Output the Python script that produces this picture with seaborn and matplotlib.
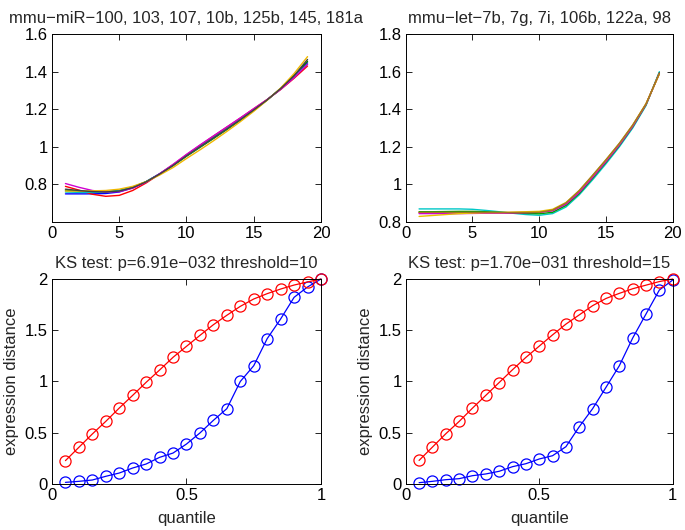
import numpy as np
import pandas as pd
import matplotlib
matplotlib.use("Agg")
import matplotlib.pyplot as plt
import seaborn as sns

# top panels: smoothed expression profiles, x = 1..19
profile_x = list(range(1, 20))

mir_names = ["blue", "green", "red", "cyan", "magenta", "yellow", "black"]
mir_colors = ["#0000ff", "#008000", "#ff0000", "#00bfbf", "#d000d0", "#f0b800", "#404040"]
mir_blue = [0.750, 0.750, 0.750, 0.752, 0.760, 0.782, 0.815, 0.857, 0.903, 0.955, 1.003, 1.050, 1.097, 1.146, 1.197, 1.250, 1.309, 1.375, 1.447]
mir_green = [0.770, 0.765, 0.762, 0.762, 0.768, 0.786, 0.815, 0.855, 0.900, 0.950, 0.997, 1.044, 1.092, 1.142, 1.194, 1.250, 1.311, 1.380, 1.455]
mir_red = [0.790, 0.770, 0.748, 0.737, 0.742, 0.768, 0.808, 0.855, 0.905, 0.958, 1.008, 1.057, 1.105, 1.153, 1.203, 1.252, 1.305, 1.365, 1.430]
mir_cyan = [0.760, 0.758, 0.758, 0.760, 0.767, 0.785, 0.815, 0.856, 0.902, 0.953, 1.001, 1.048, 1.096, 1.145, 1.196, 1.250, 1.308, 1.373, 1.440]
mir_magenta = [0.805, 0.785, 0.768, 0.760, 0.762, 0.780, 0.812, 0.857, 0.907, 0.960, 1.010, 1.058, 1.106, 1.154, 1.203, 1.252, 1.306, 1.368, 1.440]
mir_yellow = [0.765, 0.765, 0.766, 0.768, 0.775, 0.790, 0.815, 0.850, 0.890, 0.938, 0.984, 1.032, 1.082, 1.134, 1.189, 1.248, 1.313, 1.390, 1.480]
mir_black = [0.775, 0.768, 0.762, 0.760, 0.765, 0.783, 0.814, 0.855, 0.901, 0.952, 1.000, 1.047, 1.095, 1.144, 1.196, 1.250, 1.310, 1.378, 1.465]

let_names = ["cyan", "green", "red", "magenta", "yellow", "olive"]
let_colors = ["#00c8c8", "#00a000", "#ff0000", "#d000d0", "#e8c000", "#a07820"]
let_cyan = [0.870, 0.870, 0.870, 0.870, 0.868, 0.862, 0.855, 0.847, 0.840, 0.836, 0.845, 0.880, 0.945, 1.025, 1.110, 1.200, 1.300, 1.420, 1.600]
let_green = [0.855, 0.855, 0.856, 0.857, 0.857, 0.855, 0.852, 0.849, 0.846, 0.844, 0.852, 0.888, 0.952, 1.033, 1.118, 1.207, 1.307, 1.425, 1.595]
let_red = [0.850, 0.849, 0.848, 0.848, 0.849, 0.849, 0.849, 0.850, 0.851, 0.853, 0.862, 0.897, 0.962, 1.042, 1.126, 1.214, 1.312, 1.428, 1.590]
let_magenta = [0.845, 0.845, 0.845, 0.845, 0.846, 0.847, 0.848, 0.849, 0.850, 0.852, 0.860, 0.895, 0.958, 1.038, 1.122, 1.210, 1.309, 1.426, 1.592]
let_yellow = [0.830, 0.835, 0.840, 0.845, 0.848, 0.850, 0.851, 0.853, 0.855, 0.857, 0.868, 0.904, 0.968, 1.048, 1.131, 1.218, 1.316, 1.430, 1.588]
let_olive = [0.852, 0.852, 0.852, 0.852, 0.852, 0.852, 0.851, 0.851, 0.851, 0.852, 0.864, 0.902, 0.968, 1.049, 1.132, 1.219, 1.316, 1.429, 1.590]

# bottom panels: cumulative expression distance vs quantile
quantile = [0.05, 0.10, 0.15, 0.20, 0.25, 0.30, 0.35, 0.40, 0.45, 0.50,
            0.55, 0.60, 0.65, 0.70, 0.75, 0.80, 0.85, 0.90, 0.95, 1.00]
ks1_red = [0.228, 0.358, 0.488, 0.611, 0.741, 0.865, 0.992, 1.112, 1.236, 1.343,
           1.450, 1.554, 1.646, 1.733, 1.805, 1.857, 1.902, 1.941, 1.971, 2.000]
ks1_blue = [0.016, 0.026, 0.039, 0.075, 0.107, 0.156, 0.195, 0.260, 0.302, 0.390,
            0.498, 0.621, 0.735, 1.000, 1.154, 1.418, 1.610, 1.821, 1.922, 2.000]
ks2_red = [0.230, 0.360, 0.490, 0.610, 0.740, 0.865, 0.990, 1.115, 1.235, 1.345,
           1.455, 1.560, 1.650, 1.740, 1.810, 1.860, 1.905, 1.940, 1.975, 2.000]
ks2_blue = [0.013, 0.026, 0.042, 0.052, 0.081, 0.098, 0.124, 0.169, 0.198, 0.244,
            0.276, 0.364, 0.559, 0.735, 0.943, 1.154, 1.424, 1.659, 1.893, 1.990]

title_tl = "mmu\u2212miR\u2212100, 103, 107, 10b, 125b, 145, 181a"
title_tr = "mmu\u2212let\u22127b, 7g, 7i, 106b, 122a, 98"
title_bl = "KS test: p=6.91e\u2212032 threshold=10"
title_br = "KS test: p=1.70e\u2212031 threshold=15"

sns.set_style("ticks")
plt.rcParams["font.family"] = ["Liberation Sans", "DejaVu Sans"]
plt.rcParams["axes.unicode_minus"] = True
FS = 12


def style_axes(ax):
    ax.tick_params(direction="in", top=True, right=True, length=4, width=0.6,
                   labelsize=FS, colors="black", pad=3)
    for s in ax.spines.values():
        s.set_linewidth(0.7)
        s.set_color("black")
    ax.yaxis.set_major_formatter(matplotlib.ticker.FormatStrFormatter("%g"))
    ax.xaxis.set_major_formatter(matplotlib.ticker.FormatStrFormatter("%g"))


def profiles(ax, names, colors, series):
    df = pd.DataFrame({"x": profile_x * len(series),
                       "y": np.concatenate(series),
                       "line": np.repeat(names, len(profile_x))})
    sns.lineplot(data=df, x="x", y="y", hue="line", palette=dict(zip(names, colors)),
                 hue_order=names, estimator=None, sort=False, linewidth=1.0,
                 legend=False, ax=ax)
    ax.set_xlim(0, 20)
    ax.set_xticks([0, 5, 10, 15, 20])
    ax.set_xlabel("")
    ax.set_ylabel("")


def ks_panel(ax, red, blue, title):
    for vals, col in [(blue, "#0000ff"), (red, "#ff0000")]:
        sns.lineplot(x=quantile, y=vals, color=col, marker="o", markersize=8,
                     markerfacecolor="none", markeredgecolor=col, markeredgewidth=0.9,
                     linewidth=0.9, estimator=None, sort=False, ax=ax)
    ax.set_xlim(0, 1)
    ax.set_ylim(0, 2)
    ax.set_xticks([0, 0.5, 1])
    ax.set_yticks([0, 0.5, 1, 1.5, 2])
    ax.set_xlabel("quantile", fontsize=FS, labelpad=6)
    ax.set_ylabel("expression distance", fontsize=FS, labelpad=4)
    ax.set_title(title, fontsize=FS, pad=8)


fig = plt.figure(figsize=(6.85, 5.30), dpi=100)
ax_tl = fig.add_axes([0.0759, 0.581, 0.3927, 0.3547])
ax_tr = fig.add_axes([0.5923, 0.581, 0.3898, 0.3547])
ax_bl = fig.add_axes([0.0759, 0.0868, 0.3927, 0.3868])
ax_br = fig.add_axes([0.5923, 0.0868, 0.3898, 0.3868])

profiles(ax_tl, mir_names, mir_colors,
         [mir_blue, mir_green, mir_red, mir_cyan, mir_magenta, mir_yellow, mir_black])
ax_tl.set_ylim(0.6, 1.6)
ax_tl.set_yticks([0.8, 1.0, 1.2, 1.4, 1.6])
ax_tl.set_title(title_tl, fontsize=FS, pad=8)

profiles(ax_tr, let_names, let_colors,
         [let_cyan, let_green, let_red, let_magenta, let_yellow, let_olive])
ax_tr.set_ylim(0.8, 1.8)
ax_tr.set_yticks([0.8, 1.0, 1.2, 1.4, 1.6, 1.8])
ax_tr.set_title(title_tr, fontsize=FS, pad=8)

ks_panel(ax_bl, ks1_red, ks1_blue, title_bl)
ks_panel(ax_br, ks2_red, ks2_blue, title_br)

for ax in [ax_tl, ax_tr, ax_bl, ax_br]:
    style_axes(ax)
    for ln in ax.lines:
        ln.set_clip_on(False)

fig.savefig("out.png", dpi=100)
